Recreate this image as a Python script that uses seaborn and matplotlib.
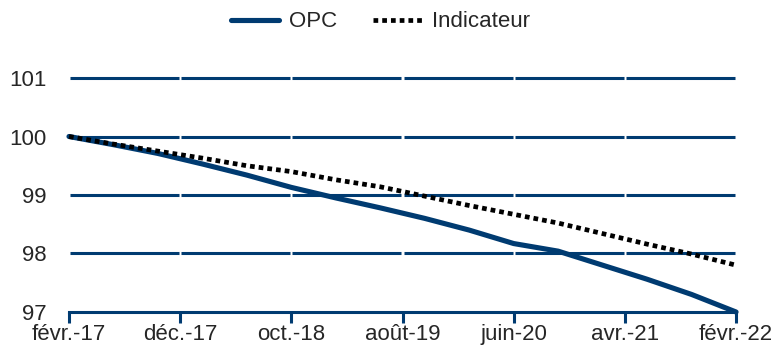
import numpy as np
import pandas as pd
import matplotlib
matplotlib.use("Agg")
import matplotlib.pyplot as plt
import seaborn as sns

# mois écoulés depuis févr.-17 (un relevé tous les 4 mois)
mois = [0, 4, 8, 12, 16, 20, 24, 28, 32, 36, 40, 44, 48, 52, 56, 60]
opc = [100.00, 99.86, 99.71, 99.53, 99.34, 99.13, 98.95, 98.78,
       98.60, 98.40, 98.17, 98.04, 97.80, 97.56, 97.30, 97.00]
indicateur = [100.00, 99.87, 99.75, 99.63, 99.50, 99.40, 99.26, 99.14,
              98.98, 98.82, 98.67, 98.52, 98.34, 98.16, 97.99, 97.80]

tick_mois = [0, 10, 20, 30, 40, 50, 60]
tick_labels = ["févr.-17", "déc.-17", "oct.-18", "août-19", "juin-20", "avr.-21", "févr.-22"]
y_ticks = [97, 98, 99, 100, 101]
grid_y = [98, 99, 100, 101]

BLEU = "#003B71"


def main():
    sns.set_style("white")
    plt.rcParams["font.family"] = ["Liberation Sans", "DejaVu Sans"]

    df = pd.DataFrame({"mois": mois, "OPC": opc, "Indicateur": indicateur})

    fig = plt.figure(figsize=(7.76, 3.47), dpi=100)
    ax = fig.add_axes([0.0889, 0.1009, 0.8596, 0.6743])

    # Grille horizontale coupée au droit des graduations (style Excel)
    gap = 0.1
    for y in grid_y:
        for a, b in zip(tick_mois[:-1], tick_mois[1:]):
            ax.hlines(y, a + gap, b - gap, color=BLEU, lw=2.2, zorder=1, clip_on=False)

    sns.lineplot(data=df, x="mois", y="OPC", ax=ax, color=BLEU, lw=3.7,
                 label="OPC", zorder=3)
    sns.lineplot(data=df, x="mois", y="Indicateur", ax=ax, color="black", lw=3.4,
                 linestyle=(0, (1, 0.85)), label="Indicateur", zorder=4)
    for line in ax.get_lines():
        line.set_clip_on(False)

    ax.set_xlim(0, 60)
    ax.set_ylim(97, 101)
    ax.set_xticks(tick_mois)
    ax.set_xticklabels(tick_labels)
    ax.set_yticks(y_ticks)
    ax.set_xlabel("")
    ax.set_ylabel("")

    for s in ["top", "right", "left"]:
        ax.spines[s].set_visible(False)
    ax.spines["bottom"].set_color(BLEU)
    ax.spines["bottom"].set_linewidth(2.2)

    ax.tick_params(axis="x", direction="out", length=8, width=2.2, color=BLEU,
                   labelsize=16, pad=1, bottom=True)
    ax.tick_params(axis="y", length=0, labelsize=16, pad=16)

    ax.legend(loc="center", bbox_to_anchor=(0.49, 0.937), bbox_transform=fig.transFigure,
              ncol=2, frameon=False, fontsize=16, handlelength=2.2,
              handletextpad=0.45, columnspacing=1.6)

    fig.savefig("out.png", dpi=100)


if __name__ == "__main__":
    main()
